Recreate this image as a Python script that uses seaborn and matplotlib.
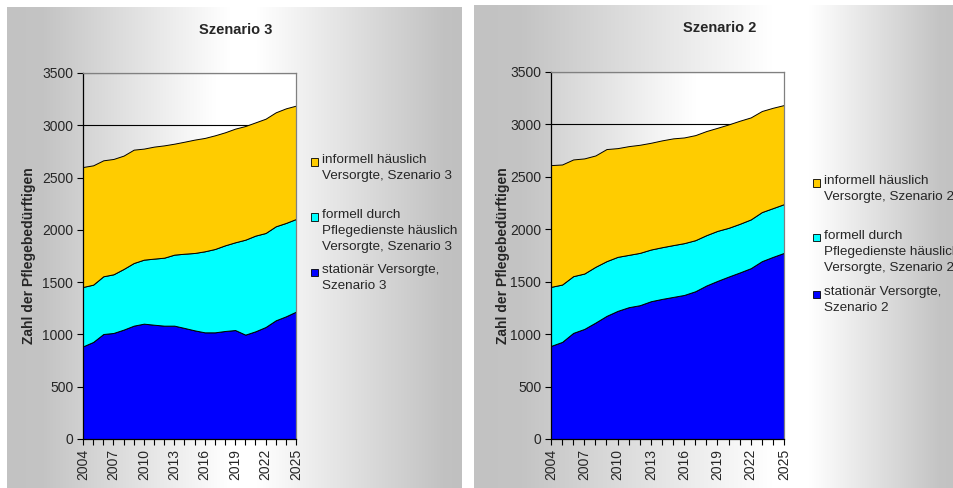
import numpy as np
import matplotlib
matplotlib.use("Agg")
import matplotlib.pyplot as plt
import seaborn as sns
from matplotlib.patches import Rectangle
from matplotlib.ticker import MultipleLocator

years = list(range(2004, 2026))
tick_years = years[::3]

# Szenario 3 (Komponenten, gestapelt)
stat_s3 = [886, 928, 1004, 1014, 1046, 1084, 1103, 1093, 1084, 1084, 1062,
           1039, 1020, 1020, 1033, 1042, 998, 1030, 1071, 1135, 1173, 1218]
form_s3 = [568, 548, 552, 561, 580, 599, 612, 632, 650, 679, 710,
           740, 775, 797, 819, 839, 908, 915, 899, 899, 893, 886]
info_s3 = [1147, 1141, 1109, 1103, 1084, 1084, 1062, 1071, 1074, 1061, 1071,
           1084, 1084, 1087, 1081, 1087, 1087, 1083, 1093, 1090, 1096, 1084]

# Szenario 2
stat_s2 = [888, 926, 1012, 1050, 1110, 1174, 1222, 1257, 1276, 1314, 1336,
           1355, 1374, 1409, 1464, 1508, 1549, 1588, 1629, 1696, 1737, 1775]
form_s2 = [563, 547, 541, 528, 532, 522, 515, 499, 499, 493, 493,
           494, 494, 487, 480, 477, 465, 464, 465, 468, 465, 465]
info_s2 = [1161, 1145, 1113, 1098, 1062, 1069, 1037, 1037, 1031, 1018, 1019,
           1018, 1008, 1002, 993, 983, 986, 983, 973, 964, 957, 945]

labels_s3 = ["informell häuslich\nVersorgte, Szenario 3",
             "formell durch\nPflegedienste häuslich\nVersorgte, Szenario 3",
             "stationär Versorgte,\nSzenario 3"]
labels_s2 = ["informell häuslich\nVersorgte, Szenario 2",
             "formell durch\nPflegedienste häuslich\nVersorgte, Szenario 2",
             "stationär Versorgte,\nSzenario 2"]

colors = ["#0000FF", "#00FFFF", "#FFCC00"]  # stationär, formell, informell

sns.set_style("ticks")
plt.rcParams['font.family'] = ['Liberation Sans', 'DejaVu Sans']

W, H = 954, 488
fig = plt.figure(figsize=(9.54, 4.88), dpi=100)
fig.patch.set_facecolor("white")


def px_rect(x0, y0, x1, y1):
    return [x0 / W, 1 - y1 / H, (x1 - x0) / W, (y1 - y0) / H]


def gradient(ax, stops, vals, zorder=0):
    pos = np.linspace(0, 1, 500)
    g = np.interp(pos, stops, vals) / 255
    img = np.dstack([g, g, g])
    ax.imshow(img, aspect="auto", extent=[0, 1, 0, 1], transform=ax.transAxes,
              interpolation="bilinear", zorder=zorder)


def panel(bg_rect, bg_stops, bg_vals, ax_rect, stat, form, info, labels,
          title, title_xy, ylab_x, leg_x, leg_rows):
    # Hintergrund des Diagrammbereichs
    bg = fig.add_axes(px_rect(*bg_rect), zorder=0)
    gradient(bg, bg_stops, bg_vals)
    bg.set_xlim(0, 1)
    bg.set_ylim(0, 1)
    bg.axis("off")

    ax = fig.add_axes(px_rect(*ax_rect), zorder=1)
    gradient(ax, [0, 0.62, 1], [212, 255, 255], zorder=0)
    ax.stackplot(years, stat, form, info, colors=colors,
                 edgecolor="black", linewidth=0.7, zorder=2)
    ax.set_xlim(2004, 2025)
    ax.set_ylim(0, 3500)
    ax.set_yticks(range(0, 3501, 500))
    ax.set_xticks(tick_years)
    ax.set_xticklabels([str(y) for y in tick_years], rotation=90)
    ax.xaxis.set_minor_locator(MultipleLocator(1))
    ax.yaxis.grid(True, color="black", linewidth=0.8)
    ax.xaxis.grid(False)
    ax.set_axisbelow(True)
    ax.tick_params(which="both", direction="out", length=4, width=0.8,
                   color="black", labelsize=10, pad=3)
    for s in ["left", "bottom"]:
        ax.spines[s].set_color("black")
        ax.spines[s].set_linewidth(0.9)
    for s in ["top", "right"]:
        ax.spines[s].set_visible(True)
        ax.spines[s].set_color("#808080")
        ax.spines[s].set_linewidth(0.9)
    ax.set_ylabel("Zahl der Pflegebedürftigen", fontsize=10, fontweight="bold")
    axw = ax_rect[2] - ax_rect[0]
    ax.yaxis.set_label_coords(-(ax_rect[0] - ylab_x) / axw, 0.5)

    fig.text(title_xy[0] / W, 1 - title_xy[1] / H, title, ha="center",
             va="center", fontsize=10.5, fontweight="bold")

    # Legende (Reihenfolge wie im Original: oben informell)
    order = [2, 1, 0]
    for lab, ci, ly in zip(labels, order, leg_rows):
        fig.add_artist(Rectangle(((leg_x - 11) / W, 1 - (ly + 3.5) / H),
                                 7 / W, 7 / H, transform=fig.transFigure,
                                 facecolor=colors[ci], edgecolor="black",
                                 linewidth=0.6))
        fig.text(leg_x / W, 1 - (ly - 8) / H, lab, ha="left", va="top",
                 fontsize=9.7, linespacing=1.45)
    return ax


panel((7, 7, 462, 488), [0, 0.08, 0.49, 0.55, 0.96, 1],
      [194, 196, 255, 255, 194, 192],
      (83, 73, 296, 439), stat_s3, form_s3, info_s3, labels_s3,
      "Szenario 3", (236, 30), 36, 322, [162, 217, 272])

panel((474, 5, 954, 488), [0, 0.1, 0.62, 0.7, 0.97, 1],
      [194, 196, 255, 255, 196, 194],
      (551, 72, 784, 439), stat_s2, form_s2, info_s2, labels_s2,
      "Szenario 2", (720, 28), 510, 824, [183, 238, 294])

fig.savefig("out.png", dpi=100)
